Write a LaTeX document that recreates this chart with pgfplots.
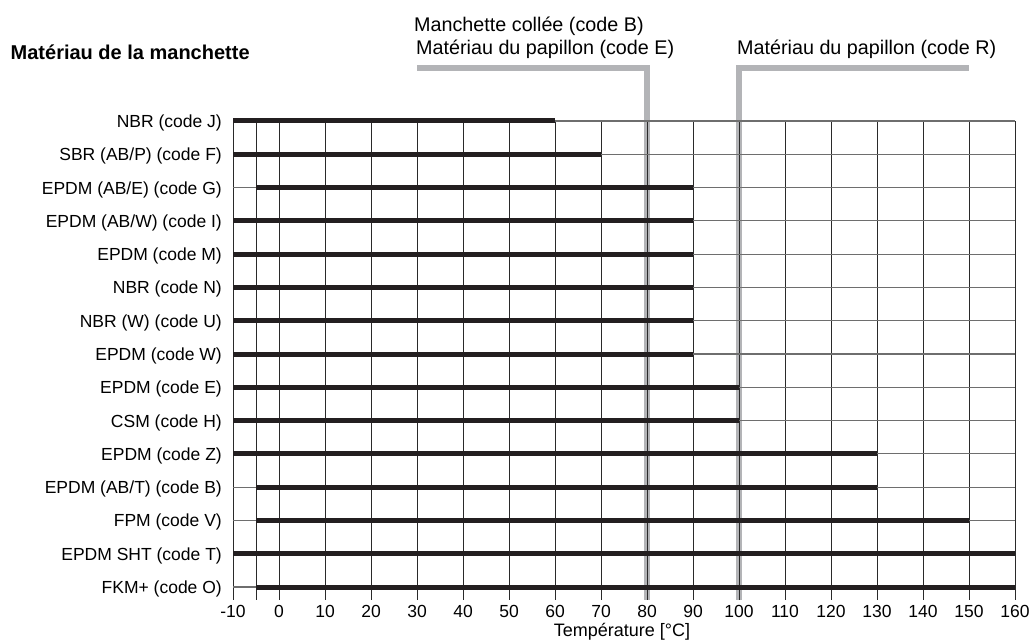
\documentclass[border=0pt]{standalone}
\usepackage{pgfplots}
\pgfplotsset{compat=1.18}
\usepackage{fontspec}
\setmainfont{Liberation Sans}
\definecolor{barcol}{HTML}{231F20}
\definecolor{graycol}{HTML}{B3B4B7}
\definecolor{vgridcol}{HTML}{2A2A2A}
\definecolor{hgridcol}{HTML}{6E6E6E}
\newcommand{\lab}{\fontsize{17.5}{20}\selectfont}
\newcommand{\ann}{\fontsize{19.75}{23}\selectfont}
\begin{document}
\begin{tikzpicture}
\begin{axis}[
  set layers,
  at={(233pt,42pt)}, anchor=south west,
  width=782pt, height=479pt, scale only axis,
  xmin=-10, xmax=160, ymin=0.61, ymax=15,
  clip=false,
  axis line style={draw=none},
  xtick={-10,0,10,...,160},
  xticklabels={-10,0,10,20,30,40,50,60,70,80,90,100,110,120,130,140,150,160},
  extra x ticks={-5}, extra x tick labels={}, extra x tick style={grid=major},
  ytick={1,...,15},
  yticklabels={FKM+ (code O), EPDM SHT (code T), FPM (code V), EPDM (AB/T) (code B), EPDM (code Z), CSM (code H), EPDM (code E), EPDM (code W), NBR (W) (code U), NBR (code N), EPDM (code M), EPDM (AB/W) (code I), EPDM (AB/E) (code G), SBR (AB/P) (code F), NBR (code J)},
  major tick length=0pt,
  grid=major,
  major x grid style={vgridcol, line width=0.9pt},
  major y grid style={hgridcol, line width=1.1pt},
  yticklabel style={font=\lab, inner sep=0pt, anchor=base east, xshift=-11pt, yshift=-6.5pt},
  xticklabel style={font=\lab, inner sep=0pt, anchor=base, yshift=-18pt},
]
\addplot[graycol, line width=5.5pt, line join=miter, on layer=axis background, forget plot] coordinates {(30,16.59) (80,16.59) (80,0.61)};
\addplot[graycol, line width=5.5pt, line join=miter, on layer=axis background, forget plot] coordinates {(100,0.61) (100,16.59) (150,16.59)};
\addplot[barcol, line width=5pt, forget plot] coordinates {(-10,15) (60,15)};
\addplot[barcol, line width=5pt, forget plot] coordinates {(-10,14) (70,14)};
\addplot[barcol, line width=5pt, forget plot] coordinates {(-5,13) (90,13)};
\addplot[barcol, line width=5pt, forget plot] coordinates {(-10,12) (90,12)};
\addplot[barcol, line width=5pt, forget plot] coordinates {(-10,11) (90,11)};
\addplot[barcol, line width=5pt, forget plot] coordinates {(-10,10) (90,10)};
\addplot[barcol, line width=5pt, forget plot] coordinates {(-10,9) (90,9)};
\addplot[barcol, line width=5pt, forget plot] coordinates {(-10,8) (90,8)};
\addplot[barcol, line width=5pt, forget plot] coordinates {(-10,7) (100,7)};
\addplot[barcol, line width=5pt, forget plot] coordinates {(-10,6) (100,6)};
\addplot[barcol, line width=5pt, forget plot] coordinates {(-10,5) (130,5)};
\addplot[barcol, line width=5pt, forget plot] coordinates {(-5,4) (130,4)};
\addplot[barcol, line width=5pt, forget plot] coordinates {(-5,3) (150,3)};
\addplot[barcol, line width=5pt, forget plot] coordinates {(-10,2) (160,2)};
\addplot[barcol, line width=5pt, forget plot] coordinates {(-5,1) (160,1)};
\end{axis}
\node[anchor=base west, inner sep=0pt, font=\fontsize{20}{24}\selectfont\bfseries] at (10.5pt,582pt) {Matériau de la manchette};
\node[anchor=base west, inner sep=0pt, font=\ann] at (414pt,610pt) {Manchette collée (code B)};
\node[anchor=base west, inner sep=0pt, font=\ann] at (416pt,587pt) {Matériau du papillon (code E)};
\node[anchor=base west, inner sep=0pt, font=\ann] at (737pt,587pt) {Matériau du papillon (code R)};
\node[anchor=base, inner sep=0pt, font=\fontsize{18}{21}\selectfont] at (622pt,5pt) {Température [°C]};
\pgfresetboundingbox
\path[use as bounding box] (0,0) rectangle (1033pt,642pt);
\end{tikzpicture}
\end{document}
